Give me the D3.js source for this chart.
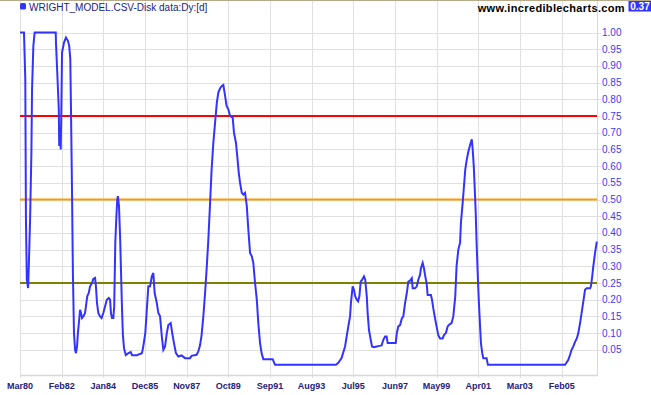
<!DOCTYPE html>
<html>
<head>
<meta charset="utf-8">
<script src="https://cdn.jsdelivr.net/npm/d3@7"></script>
<style>
	body { margin: 0; background: #fff; }
	svg { display: block; font-family: Arial, "Liberation Sans", sans-serif; }
</style>
</head>
<body>
<div class="Chart"></div>
<script>
// decimal years and values
var years = [
	1980.17, 1980.35, 1980.41, 1980.44, 1980.48, 1980.54, 1980.58, 1980.63, 1980.69, 1980.72,
	1980.78, 1980.84, 1981.81, 1981.82, 1981.88, 1981.95, 1981.97, 1982.01, 1982.04, 1982.07,
	1982.10, 1982.19, 1982.28, 1982.37, 1982.43, 1982.48, 1982.51, 1982.56, 1982.60, 1982.65,
	1982.70, 1982.74, 1982.79, 1982.83, 1982.88, 1982.93, 1982.97, 1983.02, 1983.08, 1983.16,
	1983.20, 1983.26, 1983.33, 1983.39, 1983.48, 1983.54, 1983.62, 1983.66, 1983.71, 1983.77,
	1983.85, 1983.92, 1984.00, 1984.08, 1984.16, 1984.25, 1984.31, 1984.35, 1984.40, 1984.46,
	1984.50, 1984.55, 1984.60, 1984.64, 1984.67, 1984.72, 1984.77, 1984.81, 1984.86, 1984.90,
	1984.95, 1985.03, 1985.15, 1985.26, 1985.32, 1985.54, 1985.77, 1985.81, 1985.87, 1985.93,
	1985.99, 1986.07,
	1986.15, 1986.23, 1986.30, 1986.36, 1986.46, 1986.53, 1986.61, 1986.69, 1986.76, 1986.84,
	1986.92, 1986.99, 1987.10, 1987.17, 1987.25, 1987.34, 1987.45, 1987.60, 1987.76, 1987.99,
	1988.06, 1988.29, 1988.37, 1988.45, 1988.52, 1988.60, 1988.68, 1988.75, 1988.83, 1988.91,
	1988.98, 1989.06, 1989.14, 1989.22, 1989.29, 1989.37, 1989.45, 1989.52, 1989.60, 1989.67,
	1989.75, 1989.83, 1989.95, 1990.01, 1990.10, 1990.16, 1990.23, 1990.29, 1990.37, 1990.44,
	1990.52, 1990.60, 1990.67, 1990.75, 1990.83, 1990.90, 1990.98, 1991.06, 1991.13, 1991.21,
	1991.28, 1991.36, 1991.79, 1991.90, 1994.70, 1994.80, 1994.96, 1995.12, 1995.27,
	1995.35, 1995.39, 1995.47, 1995.53, 1995.59, 1995.66, 1995.72, 1995.78, 1995.84, 1995.91,
	1995.99, 1996.05, 1996.12, 1996.16, 1996.22, 1996.30, 1996.36, 1996.45, 1996.58, 1996.65,
	1996.80, 1996.88, 1996.96, 1997.03, 1997.08, 1997.19, 1997.45, 1997.50, 1997.57, 1997.65,
	1997.73, 1997.80, 1997.88, 1997.96, 1998.03, 1998.11, 1998.19, 1998.23, 1998.34, 1998.42,
	1998.49, 1998.57, 1998.61, 1998.69, 1998.75, 1998.81, 1998.87, 1998.92, 1999.07, 1999.12,
	1999.18, 1999.26, 1999.33, 1999.41, 1999.49, 1999.61, 1999.67, 1999.76, 1999.84, 1999.91,
	2000.02, 2000.10, 2000.19, 2000.25, 2000.33, 2000.41, 2000.45, 2000.53, 2000.59, 2000.65,
	2000.72, 2000.79, 2000.87, 2000.95, 2000.99, 2001.04, 2001.08, 2001.13, 2001.17, 2001.22,
	2001.27, 2001.33, 2001.37, 2001.43, 2001.48, 2001.63, 2001.69, 2005.24, 2005.31, 2005.39,
	2005.47, 2005.54, 2005.62, 2005.70, 2005.78, 2005.85, 2005.93, 2006.00, 2006.08, 2006.16,
	2006.23, 2006.39, 2006.43, 2006.49, 2006.54, 2006.62, 2006.70
];
var values = [
	1.00, 1.00, 0.86, 0.44, 0.26, 0.235, 0.32, 0.44, 0.64, 0.83,
	0.96, 1.00, 1.00, 0.97, 0.88, 0.77, 0.66, 0.70, 0.65, 0.78,
	0.94, 0.97, 0.985, 0.975, 0.96, 0.92, 0.78, 0.52, 0.28, 0.10,
	0.05, 0.04, 0.06, 0.10, 0.134, 0.17, 0.16, 0.145, 0.15, 0.16,
	0.18, 0.21, 0.22, 0.24, 0.25, 0.262, 0.265, 0.24, 0.19, 0.16,
	0.15, 0.145, 0.16, 0.18, 0.20, 0.205, 0.20, 0.16, 0.145, 0.145,
	0.18, 0.37, 0.45, 0.50, 0.51, 0.48, 0.39, 0.29, 0.17, 0.094,
	0.055, 0.034, 0.04, 0.043, 0.034, 0.034, 0.04, 0.05, 0.074, 0.10,
	0.16, 0.24,
	0.24, 0.27, 0.28, 0.22, 0.19, 0.16, 0.15, 0.09, 0.05, 0.06,
	0.10, 0.124, 0.13, 0.10, 0.07, 0.04, 0.03, 0.033, 0.025, 0.025,
	0.032, 0.035, 0.045, 0.064, 0.094, 0.15, 0.22, 0.29, 0.38, 0.49,
	0.59, 0.67, 0.73, 0.79, 0.82, 0.833, 0.84, 0.843, 0.81, 0.78,
	0.77, 0.75, 0.745, 0.70, 0.67, 0.63, 0.58, 0.55, 0.52, 0.515,
	0.52, 0.48, 0.41, 0.34, 0.33, 0.31, 0.25, 0.20, 0.13, 0.07,
	0.04, 0.022, 0.022, 0.005, 0.005, 0.01, 0.025, 0.06, 0.12,
	0.15, 0.19, 0.24, 0.23, 0.21, 0.20, 0.195, 0.21, 0.254, 0.26,
	0.27, 0.26, 0.21, 0.16, 0.11, 0.08, 0.06, 0.058, 0.06, 0.061,
	0.063, 0.08, 0.09, 0.09, 0.07, 0.07, 0.07, 0.10, 0.12, 0.124,
	0.144, 0.15, 0.19, 0.22, 0.254, 0.257, 0.264, 0.234, 0.234, 0.24,
	0.26, 0.275, 0.294, 0.31, 0.294, 0.27, 0.25, 0.214, 0.214, 0.20,
	0.174, 0.144, 0.12, 0.094, 0.084, 0.084, 0.094, 0.10, 0.12, 0.125,
	0.13, 0.15, 0.21, 0.30, 0.35, 0.37, 0.43, 0.49, 0.54, 0.59,
	0.62, 0.643, 0.663, 0.68, 0.65, 0.60, 0.54, 0.46, 0.37, 0.28,
	0.20, 0.12, 0.07, 0.04, 0.025, 0.025, 0.005, 0.005, 0.012, 0.02,
	0.035, 0.05, 0.06, 0.074, 0.084, 0.10, 0.13, 0.16, 0.194, 0.23,
	0.234, 0.234, 0.24, 0.27, 0.30, 0.34, 0.374
];
var tickLabels = ["Mar80", "Feb82", "Jan84", "Dec85", "Nov87", "Oct89", "Sep91",
	"Aug93", "Jul95", "Jun97", "May99", "Apr01", "Mar03", "Feb05"];
var yTicks = [0.05, 0.10, 0.15, 0.20, 0.25, 0.30, 0.35, 0.40, 0.45, 0.50,
	0.55, 0.60, 0.65, 0.70, 0.75, 0.80, 0.85, 0.90, 0.95, 1.00];
var levels = [0.75, 0.50, 0.25];
var levelColors = ["#ff0000", "#ff9900", "#808000"];
var lastValue = "0.37";
var startYear = 1980.167, endYear = 2006.71;

function yearToDate(y) {
	var y0 = Math.floor(y),
		a = new Date(y0, 0, 1),
		b = new Date(y0 + 1, 0, 1);
	return new Date(a.getTime() + (y - y0) * (b - a));
}

var width = 651, height = 395,
	left = 20, right = 597, bottom = 375;

var data = years.map(function(y, i) { return { date: yearToDate(y), value: values[i] }; });

var x = d3.scaleTime()
	.domain([yearToDate(startYear), yearToDate(endYear)])
	.range([left, right]);
var y = d3.scaleLinear()
	.domain([0, 1])
	.range([366.5, 32.5]);

var parseTick = d3.timeParse("%b%y");
var tickDates = tickLabels.map(parseTick);

var svg = d3.select('.Chart').append('svg')
	.attr('width', width)
	.attr('height', height);

// top border
svg.append('line')
	.attr('x1', 0).attr('x2', width)
	.attr('y1', 0.5).attr('y2', 0.5)
	.style('stroke', '#b8ab8c');

// horizontal grid
svg.append('g').selectAll('line')
	.data(yTicks)
	.enter().append('line')
	.attr('x1', left).attr('x2', right + 4)
	.attr('y1', function(d) { return Math.round(y(d)) + 0.5; })
	.attr('y2', function(d) { return Math.round(y(d)) + 0.5; })
	.style('stroke', '#e0e0e0');

// vertical grid
svg.append('g').selectAll('line')
	.data(tickDates)
	.enter().append('line')
	.attr('x1', function(d) { return Math.round(x(d)) + 0.5; })
	.attr('x2', function(d) { return Math.round(x(d)) + 0.5; })
	.attr('y1', 1).attr('y2', bottom + 3)
	.style('stroke', '#e0e0e0');

// frame: right axis and bottom axis
svg.append('line')
	.attr('x1', right + 0.5).attr('x2', right + 0.5)
	.attr('y1', 1).attr('y2', bottom + 1)
	.style('stroke', '#d8d8d8');
svg.append('line')
	.attr('x1', left).attr('x2', right + 1)
	.attr('y1', bottom + 0.5).attr('y2', bottom + 0.5)
	.style('stroke', '#d8d8d8')
	.style('stroke-width', 1.5);

// y labels
svg.append('g').selectAll('text')
	.data(yTicks)
	.enter().append('text')
	.attr('x', right + 5)
	.attr('y', function(d) { return y(d); })
	.attr('dy', '.35em')
	.style('font-size', '10px')
	.style('fill', '#3a3af5')
	.text(function(d) { return d3.format('.2f')(d); });

// x labels
svg.append('g').selectAll('text')
	.data(tickDates)
	.enter().append('text')
	.attr('x', function(d) { return x(d); })
	.attr('y', 388.5)
	.attr('text-anchor', 'middle')
	.style('font-size', '9px')
	.style('font-weight', 'bold')
	.style('fill', '#26217e')
	.text(function(d) { return d3.timeFormat('%b%y')(d); });

// level lines
svg.append('g').selectAll('line')
	.data(levels)
	.enter().append('line')
	.attr('x1', left).attr('x2', right)
	.attr('y1', function(d) { return y(d); })
	.attr('y2', function(d) { return y(d); })
	.style('stroke', function(d, i) { return levelColors[i]; })
	.style('stroke-width', 2);

// series
var line = d3.line()
	.x(function(d) { return x(d.date); })
	.y(function(d) { return y(d.value); });

svg.append('path')
	.datum(data)
	.attr('d', line)
	.style('fill', 'none')
	.style('stroke', '#3333ff')
	.style('stroke-width', 2)
	.style('stroke-linejoin', 'miter');

// title
svg.append('rect')
	.attr('x', 20).attr('y', 3)
	.attr('width', 6).attr('height', 6.5)
	.attr('rx', 1.5)
	.style('fill', '#3333ff');
svg.append('text')
	.attr('x', 29)
	.attr('y', 10.5)
	.style('font-size', '10px')
	.style('fill', '#22208a')
	.text('WRIGHT_MODEL.CSV-Disk data:Dy:[d]');

svg.append('text')
	.attr('x', 625)
	.attr('y', 12)
	.attr('text-anchor', 'end')
	.style('font-size', '11px')
	.style('font-weight', 'bold')
	.style('letter-spacing', '0.35px')
	.style('fill', '#000')
	.text('www.incrediblecharts.com');

svg.append('rect')
	.attr('x', 628.5).attr('y', 1)
	.attr('width', 22.5).attr('height', 10.5)
	.style('fill', '#3333ff');
svg.append('text')
	.attr('x', 640)
	.attr('y', 10)
	.attr('text-anchor', 'middle')
	.style('font-size', '10px')
	.style('font-weight', 'bold')
	.style('fill', '#fff')
	.text(lastValue);
</script>
</body>
</html>
